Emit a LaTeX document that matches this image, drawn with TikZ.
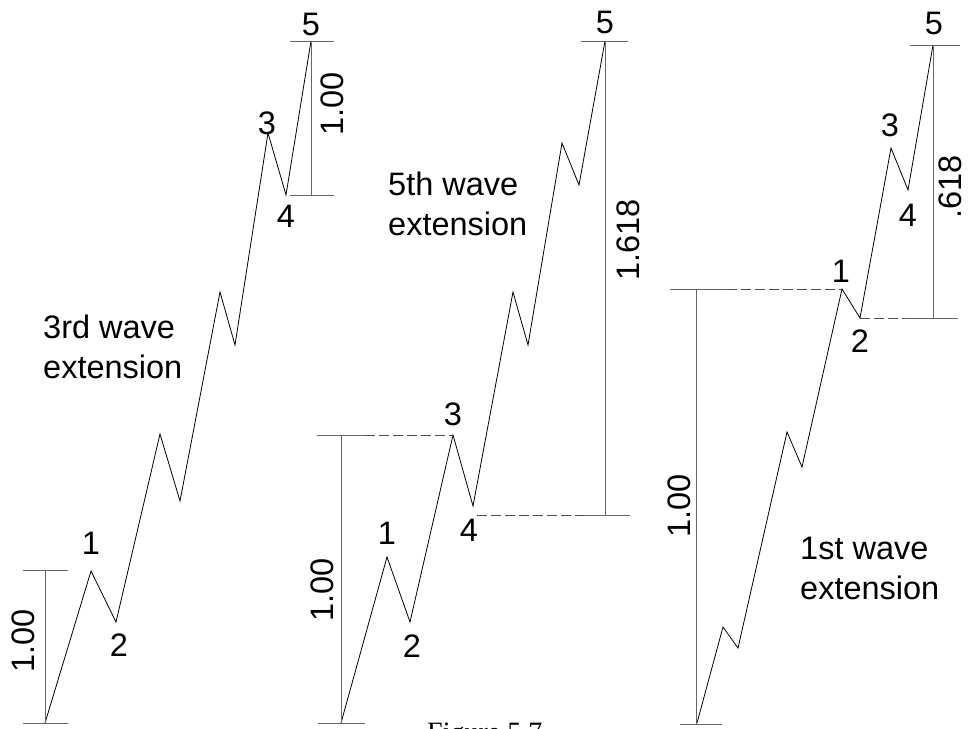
\documentclass[tikz,border=0pt]{standalone}
\usepackage{fontspec}
\newfontfamily\wavefont{Liberation Sans}
\newfontfamily\capfont{Liberation Serif}
\newcommand\lblsize{\wavefont\fontsize{32.5}{40}\selectfont}

\begin{document}
\begin{tikzpicture}[x=1pt,y=-1pt,
  wave/.style={line width=0.8pt},
  dim/.style={line width=1pt, black!60},
  guide/.style={line width=1pt, black!70, dash pattern=on 10pt off 4pt},
  lbl/.style={font=\lblsize, inner sep=0pt},
  note/.style={font=\lblsize, inner sep=0pt, align=left, anchor=north west}]
\useasboundingbox (0,0) rectangle (974,728);

% 3rd wave extension
\coordinate (l0) at (45,723);
\coordinate (l1) at (91,571);
\coordinate (l2) at (116,622);
\coordinate (la) at (160,434);
\coordinate (lb) at (180,501);
\coordinate (lc) at (220,292);
\coordinate (ld) at (235,345);
\coordinate (l3) at (268,133);
\coordinate (l4) at (286,195);
\coordinate (l5) at (311,41);
\draw[wave] (l0) -- (l1) -- (l2) -- (la) -- (lb) -- (lc) -- (ld) -- (l3) -- (l4) -- (l5);
\draw[dim] (23,723) -- (68,723);
\draw[dim] (23,570) -- (68,570);
\draw[dim] (45,723) -- (45,570);
\draw[dim] (290,41) -- (334,41);
\draw[dim] (290,195) -- (334,195);
\draw[dim] (311,41) -- (311,195);
\node[lbl] (ln1) at (91,543) {1};
\node[lbl] (ln2) at (119,645) {2};
\node[lbl] (ln3) at (267,123) {3};
\node[lbl] (ln4) at (286,216) {4};
\node[lbl] (ln5) at (311,24) {5};
\node[lbl, rotate=90] (lr1) at (23,641) {1.00};
\node[lbl, rotate=90] (lr2) at (332,104) {1.00};
\node[note] (lt) at (43,315) {3rd wave\\extension};

% 5th wave extension
\coordinate (m0) at (341,723);
\coordinate (m1) at (387,557);
\coordinate (m2) at (410,622);
\coordinate (m3) at (453,435);
\coordinate (m4) at (473,506);
\coordinate (ma) at (513,292);
\coordinate (mb) at (528,345);
\coordinate (mc) at (562,143);
\coordinate (md) at (579,185);
\coordinate (m5) at (605,41);
\draw[wave] (m0) -- (m1) -- (m2) -- (m3) -- (m4) -- (ma) -- (mb) -- (mc) -- (md) -- (m5);
\draw[dim] (318,723) -- (365,723);
\draw[dim] (317,435) -- (365,435);
\draw[guide] (365,435) -- (m3);
\draw[dim] (341,723) -- (341,435);
\draw[dim] (581,41) -- (628,41);
\draw[guide] (477,515) -- (583,515);
\draw[dim] (583,515) -- (630,515);
\draw[dim] (605,41) -- (605,515);
\node[lbl] (mn1) at (387,533) {1};
\node[lbl] (mn2) at (412,646) {2};
\node[lbl] (mn3) at (453,414) {3};
\node[lbl] (mn4) at (469,530) {4};
\node[lbl] (mn5) at (605,22) {5};
\node[lbl, rotate=90] (mr1) at (322,590) {1.00};
\node[lbl, rotate=90] (mr2) at (628,240) {1.618};
\node[note] (mt) at (388,172) {5th wave\\extension};

% 1st wave extension
\coordinate (r0) at (697,723);
\coordinate (ra) at (723,627);
\coordinate (rb) at (738,648);
\coordinate (rc) at (787,432);
\coordinate (rd) at (802,467);
\coordinate (r1) at (842,289);
\coordinate (r2) at (860,318);
\coordinate (r3) at (891,148);
\coordinate (r4) at (908,190);
\coordinate (r5) at (933,45);
\draw[wave] (r0) -- (ra) -- (rb) -- (rc) -- (rd) -- (r1) -- (r2) -- (r3) -- (r4) -- (r5);
\draw[dim] (680,724) -- (722,724);
\draw[dim] (670,289) -- (727,289);
\draw[guide] (727,289) -- (r1);
\draw[dim] (696,724) -- (696,289);
\draw[dim] (910,45) -- (960,45);
\draw[guide] (r2) -- (905,318);
\draw[dim] (905,318) -- (958,318);
\draw[dim] (933,45) -- (933,318);
\node[lbl] (rn1) at (841,271) {1};
\node[lbl] (rn2) at (860,341) {2};
\node[lbl] (rn3) at (890,125) {3};
\node[lbl] (rn4) at (908,215) {4};
\node[lbl] (rn5) at (934,23) {5};
\node[lbl, rotate=90] (rr1) at (679,506) {1.00};
\node[lbl, rotate=90] (rr2) at (950,187) {.618};
\node[note] (rt) at (800,537) {1st wave\\extension};

\node[font=\capfont\fontsize{28}{32}\selectfont, inner sep=0pt, anchor=base west] (cap) at (427,741.5) {Figure 5.7};
\end{tikzpicture}
\end{document}
